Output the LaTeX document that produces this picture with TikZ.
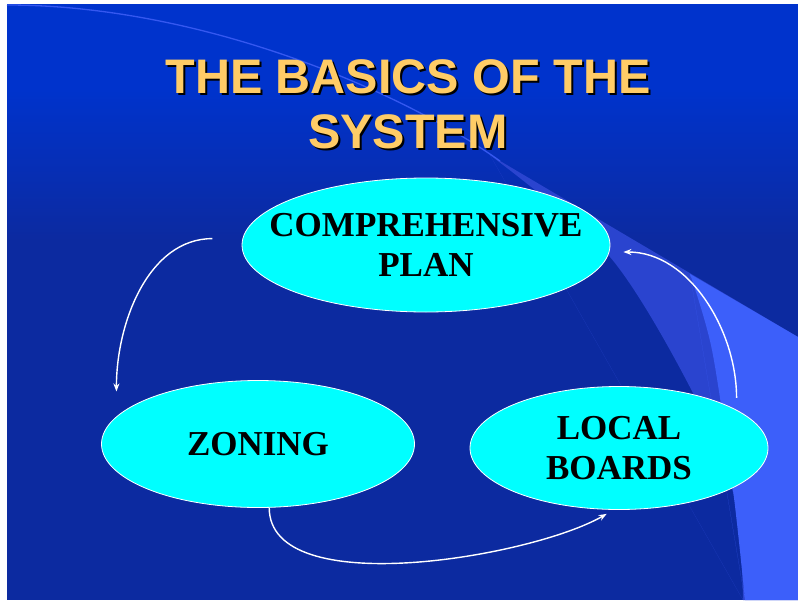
\documentclass[tikz,border=0pt]{standalone}
\usepackage{fontspec}
\setmainfont{Liberation Serif}
\newfontfamily\headfont{Liberation Sans}
\usetikzlibrary{shapes.geometric,arrows.meta}
\definecolor{slideblue}{HTML}{0033CC}
\definecolor{slidedark}{HTML}{0C2AA0}
\definecolor{swooshmid}{HTML}{2A44CF}
\definecolor{swooshlight}{HTML}{3C5FFA}
\definecolor{swooshline}{HTML}{3558F0}
\definecolor{bubblecyan}{HTML}{00FFFF}
\definecolor{titlegold}{HTML}{FFCC66}
\newcommand{\dropshadow}[1]{\makebox[0pt][l]{\kern2pt\raisebox{-2pt}{\textcolor{black}{#1}}}#1}
\begin{document}
\begin{tikzpicture}[x=1pt,y=-1pt,
    bubble/.style={ellipse, draw=white, line width=0.8pt, fill=bubblecyan, inner sep=0pt},
    bubbletext/.style={font=\fontsize{35}{40}\selectfont\bfseries, align=center, text=black, inner sep=0pt},
    titletext/.style={font=\headfont\bfseries\fontsize{48.5}{55}\selectfont, align=center, inner sep=0pt},
    flow/.style={white, line width=1.4pt, -{Stealth[length=8pt,width=6pt]}}]
  \useasboundingbox (0,0) rectangle (798,600);
  \fill[white] (0,0) rectangle (798,600);
  \fill[slideblue] (7,4) rectangle (798,600);
  \shade[top color=slideblue, bottom color=slidedark] (7,90) rectangle (798,240);
  \fill[slidedark] (7,239) rectangle (798,600);
  \fill[swooshmid] (490,155) -- (798,337) -- (798,600) -- (743,600)
    plot[smooth] coordinates {(743,600) (735,500) (693,393) (610,257) (490,155)} -- cycle;
  \fill[swooshlight] (690,274) -- (798,337) -- (798,600) -- (745,600)
    plot[smooth] coordinates {(745,600) (733,490) (712,350) (690,274)} -- cycle;
  \draw[swooshline, line width=1.3pt] (7,5) .. controls (200,5) and (400,90) .. (500,161);

  \node[titletext, text=titlegold] (title) at (408,105) {\dropshadow{THE BASICS OF THE}\\\dropshadow{SYSTEM}};

  \node[bubble, minimum width=368pt, minimum height=134pt,
    label={[bubbletext]center:{COMPREHENSIVE\\PLAN}}] (plan) at (426,245) {};
  \node[bubble, minimum width=313pt, minimum height=127pt,
    label={[bubbletext]center:{ZONING}}] (zoning) at (258,444) {};
  \node[bubble, minimum width=298pt, minimum height=123pt,
    label={[bubbletext]center:{LOCAL\\BOARDS}}] (boards) at (619,448) {};

  \draw[flow, shorten <=30pt, shorten >=25pt] (plan.178) to[out=180, in=90, looseness=1.1] (zoning.169);
  \draw[flow, shorten >=8pt] (zoning.-80) to[out=-90, in=-150, looseness=0.7] (boards.-95);
  \draw[flow, shorten <=12pt, shorten >=13pt] (boards.18) to[out=90, in=0] ([yshift=-7pt]plan.east);
\end{tikzpicture}
\end{document}
